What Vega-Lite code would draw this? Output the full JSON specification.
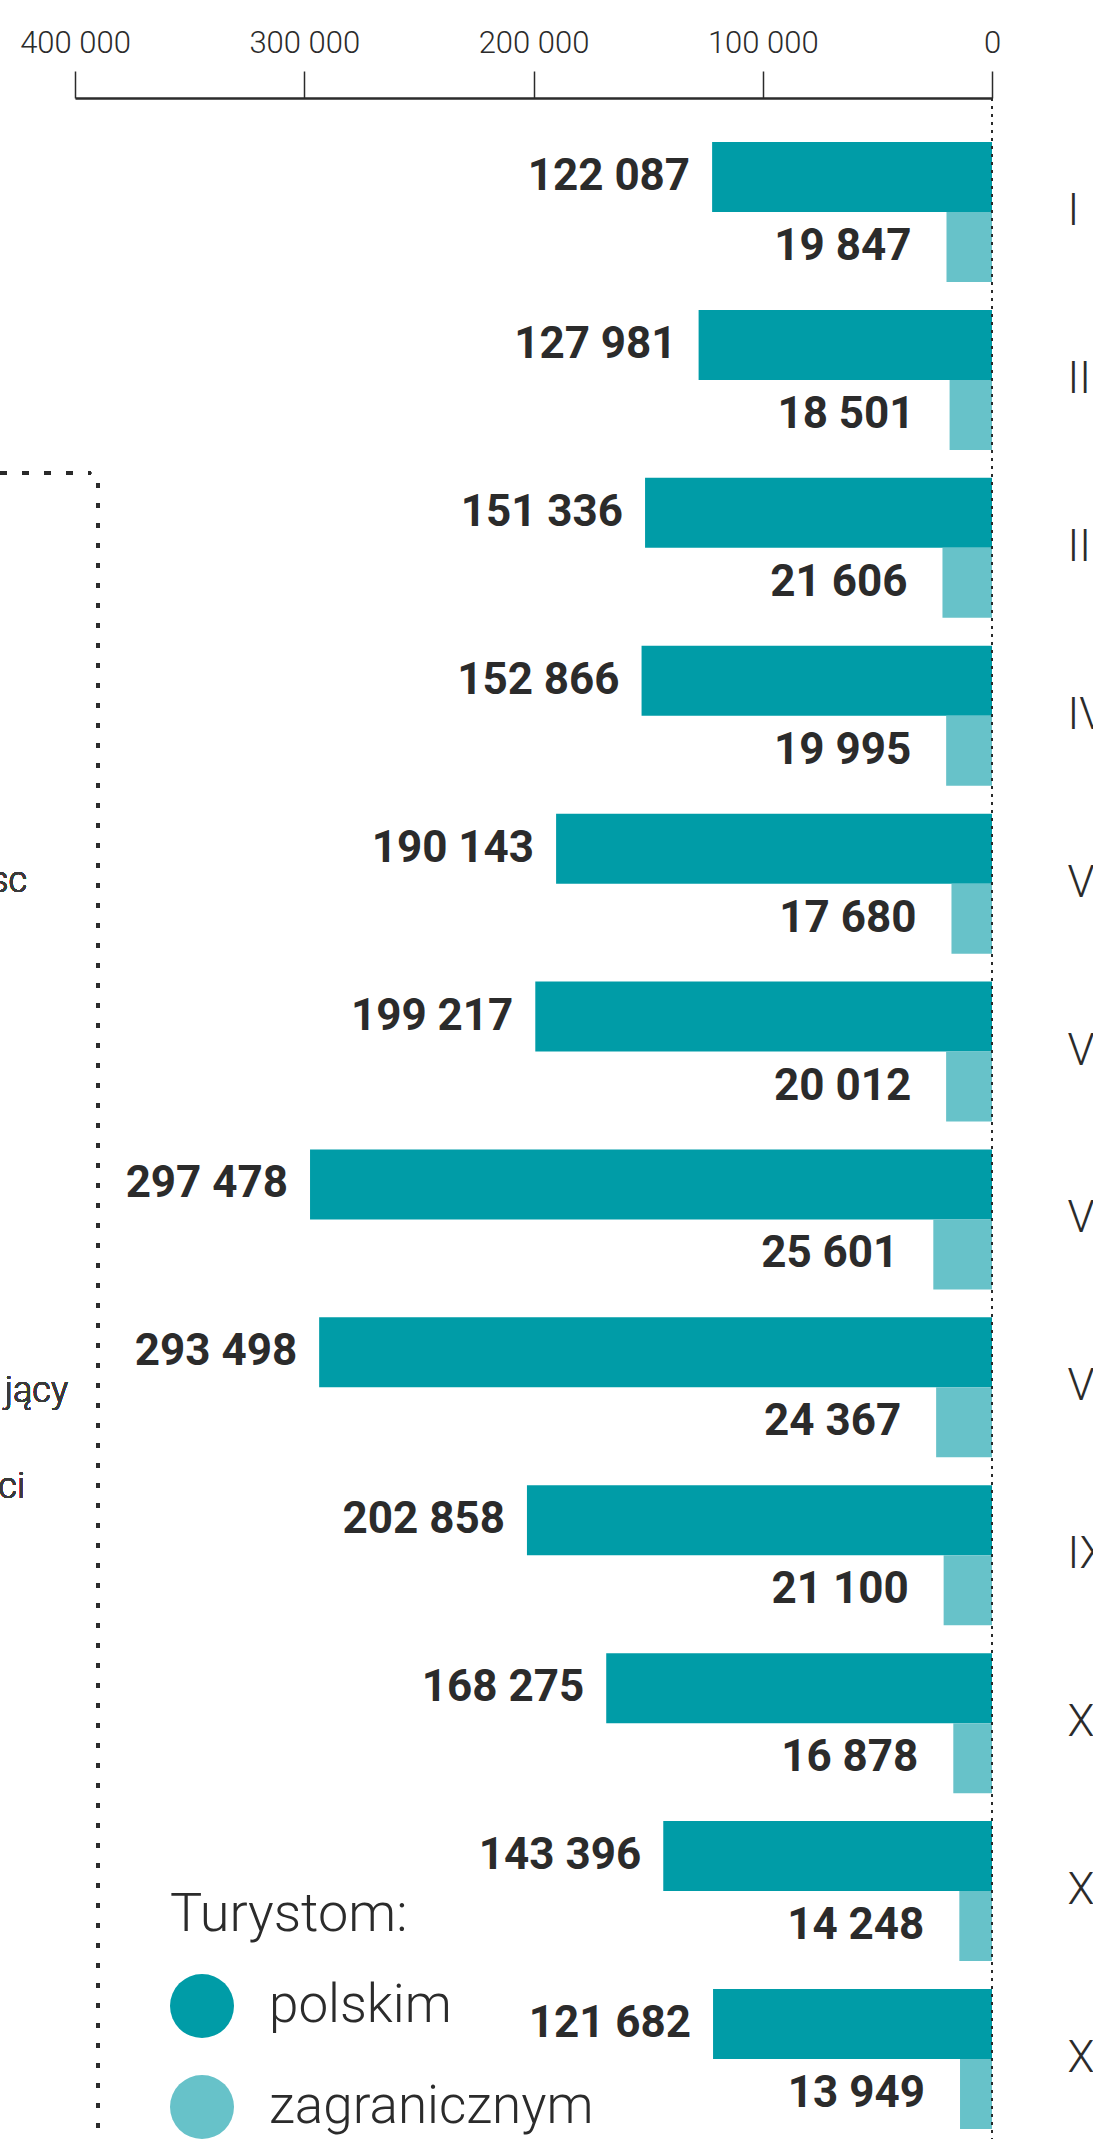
{
  "$schema": "https://vega.github.io/schema/vega-lite/v6.json",
  "width": 917,
  "height": 2041,
  "autosize": {"type": "none"},
  "padding": {"left": 75, "top": 98, "right": 101, "bottom": 0},
  "background": "white",
  "config": {
    "view": {"stroke": null},
    "font": "Roboto",
    "locale": {"number": {"decimal": ",", "thousands": " ", "grouping": [3], "currency": ["", " zł"]}}
  },
  "data": {
    "values": [
      {"miesiac": "I", "typ": "polskim", "wartosc": 122087},
      {"miesiac": "I", "typ": "zagranicznym", "wartosc": 19847},
      {"miesiac": "II", "typ": "polskim", "wartosc": 127981},
      {"miesiac": "II", "typ": "zagranicznym", "wartosc": 18501},
      {"miesiac": "III", "typ": "polskim", "wartosc": 151336},
      {"miesiac": "III", "typ": "zagranicznym", "wartosc": 21606},
      {"miesiac": "IV", "typ": "polskim", "wartosc": 152866},
      {"miesiac": "IV", "typ": "zagranicznym", "wartosc": 19995},
      {"miesiac": "V", "typ": "polskim", "wartosc": 190143},
      {"miesiac": "V", "typ": "zagranicznym", "wartosc": 17680},
      {"miesiac": "VI", "typ": "polskim", "wartosc": 199217},
      {"miesiac": "VI", "typ": "zagranicznym", "wartosc": 20012},
      {"miesiac": "VII", "typ": "polskim", "wartosc": 297478},
      {"miesiac": "VII", "typ": "zagranicznym", "wartosc": 25601},
      {"miesiac": "VIII", "typ": "polskim", "wartosc": 293498},
      {"miesiac": "VIII", "typ": "zagranicznym", "wartosc": 24367},
      {"miesiac": "IX", "typ": "polskim", "wartosc": 202858},
      {"miesiac": "IX", "typ": "zagranicznym", "wartosc": 21100},
      {"miesiac": "X", "typ": "polskim", "wartosc": 168275},
      {"miesiac": "X", "typ": "zagranicznym", "wartosc": 16878},
      {"miesiac": "XI", "typ": "polskim", "wartosc": 143396},
      {"miesiac": "XI", "typ": "zagranicznym", "wartosc": 14248},
      {"miesiac": "XII", "typ": "polskim", "wartosc": 121682},
      {"miesiac": "XII", "typ": "zagranicznym", "wartosc": 13949}
    ]
  },
  "layer": [
    {
      "mark": {"type": "bar"},
      "encoding": {
        "y": {
          "field": "miesiac", "type": "nominal",
          "sort": ["I", "II", "III", "IV", "V", "VI", "VII", "VIII", "IX", "X", "XI", "XII"],
          "scale": {"domain": ["I", "II", "III", "IV", "V", "VI", "VII", "VIII", "IX", "X", "XI", "XII"], "paddingInner": 0.1662, "paddingOuter": 0.1608, "align": 0.815},
          "axis": {"orient": "right", "title": null, "domain": false, "ticks": false, "tickSize": 0, "labelPadding": 75, "labelAlign": "left", "labelBaseline": "middle", "labelFontSize": 44, "labelFontWeight": 300, "labelColor": "#2b2b2b", "labelLimit": 0}
        },
        "yOffset": {"field": "typ", "type": "nominal", "scale": {"domain": ["polskim", "zagranicznym"], "paddingInner": 0, "paddingOuter": 0}},
        "x": {
          "field": "wartosc", "type": "quantitative",
          "scale": {"domain": [0, 400000], "reverse": true, "nice": false, "zero": true},
          "axis": {"orient": "top", "title": null, "values": [0, 100000, 200000, 300000, 400000], "format": ",d", "grid": false, "domainColor": "#2b2b2b", "domainWidth": 2.5, "tickColor": "#2b2b2b", "tickWidth": 1.5, "tickSize": 27, "labelPadding": 12, "labelFontSize": 31, "labelFontWeight": 300, "labelColor": "#2b2b2b", "labelFlush": false, "labelOverlap": false}
        },
        "color": {
          "field": "typ", "type": "nominal",
          "scale": {"domain": ["polskim", "zagranicznym"], "range": ["#009ca7", "#67c2c9"]},
          "legend": {"orient": "none", "legendX": 95, "legendY": 1790, "direction": "vertical", "title": "Turystom:", "titleFont": "Roboto", "titleFontSize": 54, "titleFontWeight": 300, "titleColor": "#2b2b2b", "titlePadding": 32, "titleLimit": 0, "labelFont": "Roboto", "labelFontSize": 53, "labelFontWeight": 300, "labelColor": "#2b2b2b", "symbolType": "circle", "symbolSize": 4096, "symbolStrokeWidth": 0, "symbolOpacity": 1, "labelOffset": 35, "rowPadding": 37, "padding": 0, "labelLimit": 0}
        }
      }
    },
    {
      "transform": [{"filter": "datum.typ === 'polskim'"}],
      "mark": {"type": "text", "align": "right", "baseline": "middle", "dx": -22, "fontSize": 44, "fontWeight": "bold", "color": "#2b2b2b"},
      "encoding": {
        "y": {"field": "miesiac", "type": "nominal"},
        "yOffset": {"field": "typ", "type": "nominal"},
        "x": {"field": "wartosc", "type": "quantitative"},
        "text": {"field": "wartosc", "type": "quantitative", "format": ",d"}
      }
    },
    {
      "transform": [{"filter": "datum.typ === 'zagranicznym'"}],
      "mark": {"type": "text", "align": "right", "baseline": "middle", "dx": -35, "fontSize": 44, "fontWeight": "bold", "color": "#2b2b2b"},
      "encoding": {
        "y": {"field": "miesiac", "type": "nominal"},
        "yOffset": {"field": "typ", "type": "nominal"},
        "x": {"field": "wartosc", "type": "quantitative"},
        "text": {"field": "wartosc", "type": "quantitative", "format": ",d"}
      }
    },
    {
      "mark": {"type": "rule", "color": "#2b2b2b", "strokeWidth": 1.5, "strokeDash": [3, 5]},
      "encoding": {"x": {"datum": 0, "type": "quantitative"}}
    },
    {
      "mark": {"type": "rule", "color": "#2b2b2b", "strokeWidth": 2.5, "strokeDash": [7, 15]},
      "encoding": {
        "x": {"datum": 432715, "type": "quantitative"},
        "x2": {"datum": 393000},
        "y": {"datum": "III", "type": "nominal", "bandPosition": -0.034}
      }
    },
    {
      "mark": {"type": "rule", "color": "#2b2b2b", "strokeWidth": 3, "strokeDash": [5, 15]},
      "encoding": {
        "x": {"datum": 390000, "type": "quantitative"},
        "y": {"datum": "III", "type": "nominal", "bandPosition": 0.037},
        "y2": {"datum": "XII", "bandPosition": 1.1}
      }
    },
    {
      "mark": {"type": "text", "align": "right", "baseline": "alphabetic", "fontSize": 36, "fontWeight": 300, "color": "#3a3a3a"},
      "encoding": {
        "x": {"datum": 420940, "type": "quantitative"},
        "y": {"datum": "V", "type": "nominal", "bandPosition": 0.56},
        "text": {"value": "sc"}
      }
    },
    {
      "mark": {"type": "text", "align": "right", "baseline": "alphabetic", "fontSize": 36, "fontWeight": 300, "color": "#3a3a3a"},
      "encoding": {
        "x": {"datum": 403050, "type": "quantitative"},
        "y": {"datum": "VIII", "type": "nominal", "bandPosition": 0.605},
        "text": {"value": "jący"}
      }
    },
    {
      "mark": {"type": "text", "align": "right", "baseline": "alphabetic", "fontSize": 36, "fontWeight": 300, "color": "#3a3a3a"},
      "encoding": {
        "x": {"datum": 421810, "type": "quantitative"},
        "y": {"datum": "IX", "type": "nominal", "bandPosition": 0.091},
        "text": {"value": "ci"}
      }
    }
  ]
}
